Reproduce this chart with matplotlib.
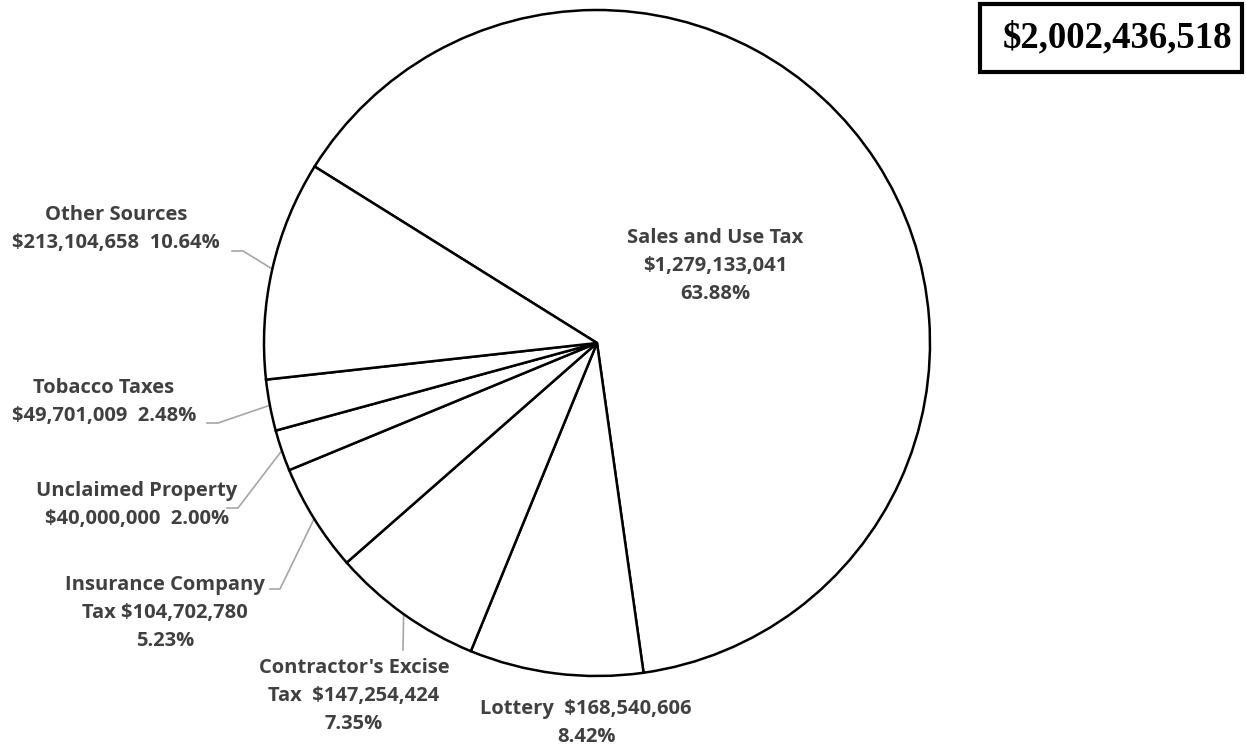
import numpy as np
import matplotlib.pyplot as plt
from matplotlib.patches import Rectangle

plt.rcParams['font.family'] = ['Open Sans', 'DejaVu Sans']

# data
sources = ['Sales and Use Tax', 'Lottery', "Contractor's Excise Tax",
           'Insurance Company Tax', 'Unclaimed Property', 'Tobacco Taxes',
           'Other Sources']
amounts = [1279133041, 168540606, 147254424, 104702780, 40000000,
           49701009, 213104658]
label_text = [
    'Sales and Use Tax\n$1,279,133,041\n63.88%',
    'Lottery  $168,540,606\n8.42%',
    "Contractor's Excise\nTax  $147,254,424\n7.35%",
    'Insurance Company\nTax $104,702,780\n5.23%',
    'Unclaimed Property\n$40,000,000  2.00%',
    'Tobacco Taxes\n$49,701,009  2.48%',
    'Other Sources\n$213,104,658  10.64%',
]
total_text = '$2,002,436,518'

W, H = 1246, 749
fig = plt.figure(figsize=(W / 100, H / 100), dpi=100)
ax = fig.add_axes([0, 0, 1, 1])

cx, cy, r = 597, H - 343, 333
wedges, _ = ax.pie(amounts, center=(cx, cy), radius=r, startangle=148,
                   counterclock=False, colors=['white'] * len(amounts),
                   wedgeprops=dict(edgecolor='black', linewidth=1.8))
ax.set_xlim(0, W)
ax.set_ylim(0, H)
ax.set_aspect('equal')
ax.axis('off')

# label layout: text center (px from top-left), leader start, elbow
layout = {
    0: ((715, 266), None),
    1: ((586, 723), None),
    2: ((354, 696), [(403, 650), (403, 650)]),
    3: ((165, 613), [(270, 589), (280, 589)]),
    4: ((137, 505), [(227, 508), (238, 508)]),
    5: ((104, 402), [(207, 423), (218, 423)]),
    6: ((116, 229), [(232, 251), (243, 251)]),
}

for i, w in enumerate(wedges):
    (tx, ty), leader = layout[i]
    ax.text(tx, H - ty, label_text[i], ha='center', va='center',
            multialignment='center', fontsize=14.5, fontweight='bold',
            color='#404040', linespacing=1.56)
    if leader:
        mid = np.deg2rad((w.theta1 + w.theta2) / 2)
        ex, ey = cx + r * np.cos(mid), cy + r * np.sin(mid)
        xs = [leader[0][0], leader[1][0], ex]
        ys = [H - leader[0][1], H - leader[1][1], ey]
        ax.plot(xs, ys, color='#a6a6a6', linewidth=1.2, zorder=0.5)

# total box
ax.add_patch(Rectangle((980, H - 72), 262, 68, facecolor='white',
                       edgecolor='black', linewidth=3))
ax.text(1117, H - 38, total_text, ha='center', va='center', fontsize=26.5,
        fontweight='bold', family='Liberation Serif', color='black')

fig.savefig('out.png', dpi=100)
